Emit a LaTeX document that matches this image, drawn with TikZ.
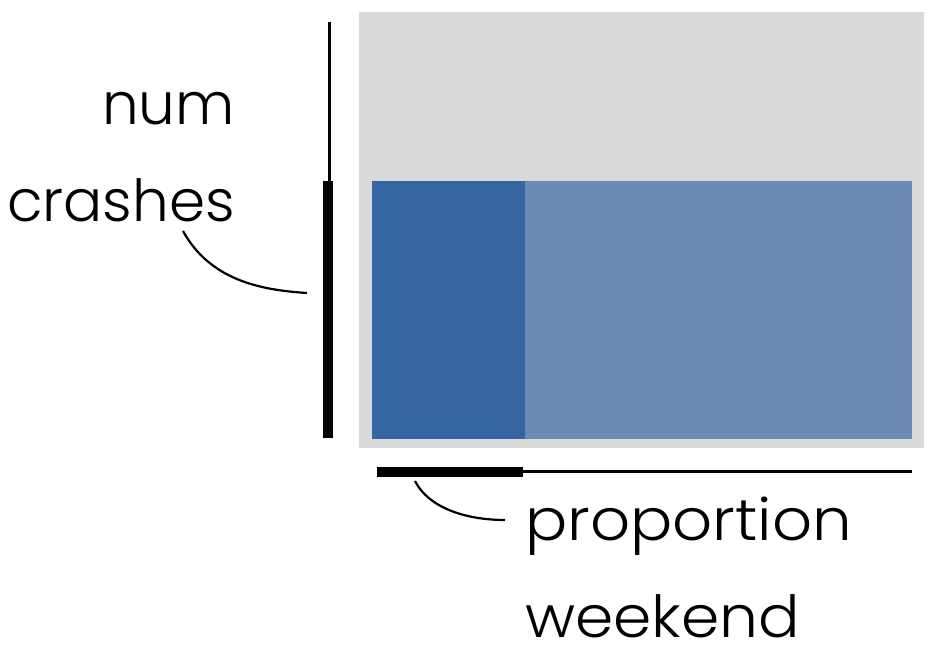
\documentclass[tikz,border=0pt]{standalone}
\usepackage{fontspec}
\setmainfont{Poppins}[UprightFont={* Light}]
\definecolor{panelgray}{HTML}{D9D9D9}
\definecolor{darkblue}{HTML}{3665A3}
\definecolor{lightblue}{HTML}{6C8AB4}
\begin{document}
\begin{tikzpicture}[x=1pt,y=-1pt,
  label/.style={inner sep=0pt, text depth=0pt, font=\fontsize{58}{60}\selectfont},
  thinaxis/.style={line width=3pt},
  thickaxis/.style={line width=10pt},
  callout/.style={line width=2.2pt}]
\useasboundingbox (0,0) rectangle (937,655);
% panel and bars
\fill[panelgray] (359,12) rectangle (924,448);
\fill[darkblue] (372,181) rectangle (525,439);
\fill[lightblue] (525,181) rectangle (912,439);
% vertical axis
\coordinate (vtop) at (329,22);
\coordinate (vmid) at (328,181);
\coordinate (vbot) at (328,438);
\draw[thinaxis] (vtop) -- (329,181);
\draw[thickaxis] (vmid) -- (vbot);
% horizontal axis
\coordinate (hleft) at (377,472);
\coordinate (hmid) at (523,472);
\coordinate (hright) at (912,471);
\draw[thickaxis] (hleft) -- (hmid);
\draw[thinaxis] (523,471) -- (hright);
% labels
\node[label, anchor=base east] (num) at (235,125) {num};
\node[label, anchor=base east] (crashes) at (235,222) {crashes};
\node[label, anchor=base west, xscale=1.08] (prop) at (525,540) {proportion};
\node[label, anchor=base west, xscale=1.06] (week) at (525,637) {weekend};
% callouts
\coordinate (c1) at (183,231);
\coordinate (c1e) at (307,293);
\draw[callout] (c1) .. controls (210,280) and (260,290) .. (c1e);
\coordinate (c2) at (415,481);
\coordinate (c2e) at (505,520);
\draw[callout] (c2) .. controls (430,510) and (470,520) .. (c2e);
\end{tikzpicture}
\end{document}
